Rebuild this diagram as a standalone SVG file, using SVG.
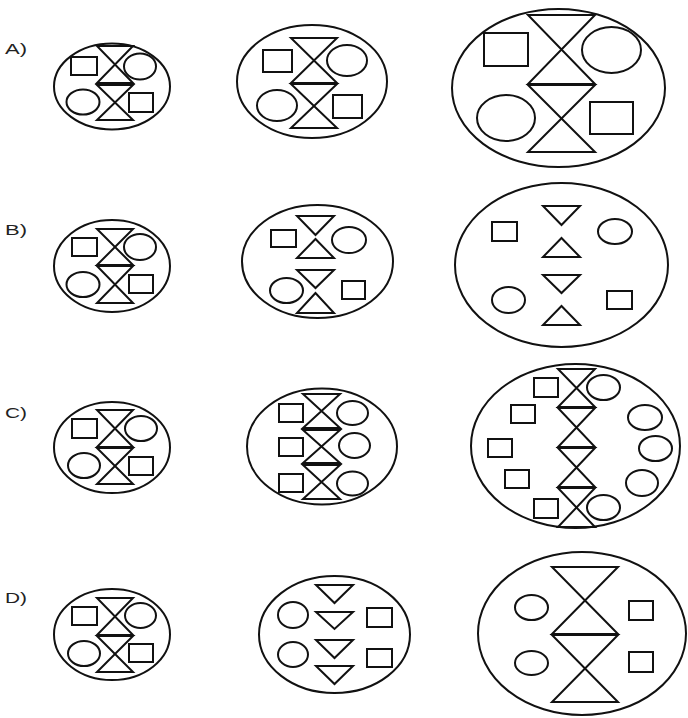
<svg xmlns="http://www.w3.org/2000/svg" width="688" height="718" viewBox="0 0 688 718">
<style>
.s{fill:none;stroke:#111;stroke-width:2;stroke-linejoin:miter}
.lbl{font-family:"Liberation Sans",Arial,sans-serif;font-size:15px;fill:#222}
</style>
<rect width="688" height="718" fill="#fff"/>
<g id="labels">
<text class="lbl" x="5" y="54" textLength="22" lengthAdjust="spacingAndGlyphs">A)</text>
<text class="lbl" x="5" y="235" textLength="22" lengthAdjust="spacingAndGlyphs">B)</text>
<text class="lbl" x="5" y="418" textLength="22" lengthAdjust="spacingAndGlyphs">C)</text>
<text class="lbl" x="5" y="603" textLength="22" lengthAdjust="spacingAndGlyphs">D)</text>
</g>
<g id="A1" class="s">
<ellipse cx="112" cy="86.5" rx="58" ry="43"/>
<path d="M97,46H133L97,83H133Z M97,85H133L97,120H133Z"/>
<rect x="71" y="57" width="26" height="18"/>
<ellipse cx="140" cy="66.5" rx="16" ry="13"/>
<ellipse cx="83" cy="102" rx="16.5" ry="12.5"/>
<rect x="129" y="93" width="24" height="19"/>
</g>
<g id="A2" class="s">
<ellipse cx="312" cy="81.5" rx="75" ry="56.5"/>
<path d="M291,38H337L291,83H337Z M291,84H337L291,128H337Z"/>
<rect x="263" y="50" width="29" height="22"/>
<ellipse cx="347" cy="60.5" rx="20" ry="15.5"/>
<ellipse cx="277" cy="105.5" rx="20" ry="15.5"/>
<rect x="333" y="95" width="29" height="23"/>
</g>
<g id="A3" class="s">
<ellipse cx="558.5" cy="88" rx="106.5" ry="79"/>
<path d="M528,15H595L528,84H595Z M528,85H595L528,152H595Z"/>
<rect x="484" y="33" width="44" height="33"/>
<ellipse cx="611.5" cy="50" rx="29.5" ry="23"/>
<ellipse cx="506" cy="118" rx="29" ry="23"/>
<rect x="590" y="102" width="43" height="32"/>
</g>
<g id="B1" class="s">
<ellipse cx="112" cy="266" rx="58" ry="46"/>
<path d="M97,229H133L97,265H133Z M97,266H133L97,303H133Z"/>
<rect x="72" y="238" width="25" height="18"/>
<ellipse cx="140" cy="247" rx="16" ry="13"/>
<ellipse cx="83" cy="284.5" rx="16.5" ry="12.5"/>
<rect x="129" y="275" width="24" height="18"/>
</g>
<g id="B2" class="s">
<ellipse cx="317.5" cy="261.5" rx="75.5" ry="56.5"/>
<path d="M297,216H334L315.5,235Z M315.5,239L297,258H334Z M297,270H334L315.5,288Z M315.5,293L297,313H334Z"/>
<rect x="271" y="230" width="25" height="17"/>
<ellipse cx="349" cy="240" rx="17" ry="13"/>
<ellipse cx="286.5" cy="290.5" rx="16.5" ry="12.5"/>
<rect x="342" y="281" width="23" height="18"/>
</g>
<g id="B3" class="s">
<ellipse cx="561.5" cy="265" rx="106.5" ry="82"/>
<path d="M543,206H580L561.5,225Z M561.5,238L543,257H580Z M543,275H580L561.5,293Z M561.5,306L543,325H580Z"/>
<rect x="492" y="222" width="25" height="19"/>
<ellipse cx="615" cy="231.5" rx="17" ry="12.5"/>
<ellipse cx="508.5" cy="300" rx="16.5" ry="13"/>
<rect x="607" y="291" width="25" height="18"/>
</g>
<g id="C1" class="s">
<ellipse cx="112" cy="447.5" rx="58" ry="45.5"/>
<path d="M97,410H133L97,447H133Z M97,448H133L97,484H133Z"/>
<rect x="72" y="419" width="25" height="19"/>
<ellipse cx="141" cy="428.5" rx="16" ry="12.5"/>
<ellipse cx="84" cy="465.5" rx="16" ry="12.5"/>
<rect x="129" y="457" width="24" height="18"/>
</g>
<g id="C2" class="s">
<ellipse cx="322" cy="446.5" rx="75" ry="58"/>
<path d="M303,394H340L303,428H340Z M303,430H340L303,463H340Z M303,465H340L303,499H340Z"/>
<rect x="279" y="404" width="24" height="18"/>
<rect x="279" y="438" width="24" height="18"/>
<rect x="279" y="474" width="24" height="18"/>
<ellipse cx="352.5" cy="413" rx="15.5" ry="12"/>
<ellipse cx="354.5" cy="445.5" rx="15.5" ry="12.5"/>
<ellipse cx="352.5" cy="483.5" rx="15.5" ry="12"/>
</g>
<g id="C3" class="s">
<ellipse cx="575.5" cy="446" rx="104.5" ry="82"/>
<path d="M558,369H595L558,407H595Z M558,408H595L558,447H595Z M558,448H595L558,487H595Z M558,488H595L558,527H595Z"/>
<rect x="534" y="378" width="24" height="19"/>
<rect x="511" y="405" width="24" height="18"/>
<rect x="488" y="439" width="24" height="18"/>
<rect x="505" y="470" width="24" height="18"/>
<rect x="534" y="499" width="24" height="19"/>
<ellipse cx="603.5" cy="387.5" rx="16.5" ry="12.5"/>
<ellipse cx="645" cy="417.5" rx="17" ry="12.5"/>
<ellipse cx="655.5" cy="448.5" rx="16.5" ry="12.5"/>
<ellipse cx="642" cy="483" rx="16" ry="13"/>
<ellipse cx="603.5" cy="507.5" rx="16.5" ry="12.5"/>
</g>
<g id="D1" class="s">
<ellipse cx="112" cy="634.5" rx="58" ry="45.5"/>
<path d="M97,598H133L97,635H133Z M97,636H133L97,672H133Z"/>
<rect x="72" y="607" width="25" height="18"/>
<ellipse cx="140.5" cy="615.5" rx="15.5" ry="12.5"/>
<ellipse cx="84" cy="653.5" rx="16" ry="12.5"/>
<rect x="129" y="644" width="24" height="18"/>
</g>
<g id="D2" class="s">
<ellipse cx="334.5" cy="634.5" rx="75.5" ry="58.5"/>
<path d="M316,585H353L334.5,603Z M316,612H353L334.5,629Z M316,640H353L334.5,658Z M316,666H353L334.5,684Z"/>
<ellipse cx="293" cy="615" rx="15" ry="13"/>
<ellipse cx="293" cy="654.5" rx="15" ry="12.5"/>
<rect x="367" y="608" width="25" height="19"/>
<rect x="367" y="649" width="25" height="18"/>
</g>
<g id="D3" class="s">
<ellipse cx="582" cy="633.5" rx="104" ry="81.5"/>
<path d="M552,567H618L552,634H618Z M552,635H618L552,702H618Z"/>
<ellipse cx="531.5" cy="607.5" rx="16.5" ry="12.5"/>
<ellipse cx="531.5" cy="663" rx="16.5" ry="12"/>
<rect x="629" y="601" width="24" height="19"/>
<rect x="629" y="652" width="24" height="20"/>
</g>
</svg>
